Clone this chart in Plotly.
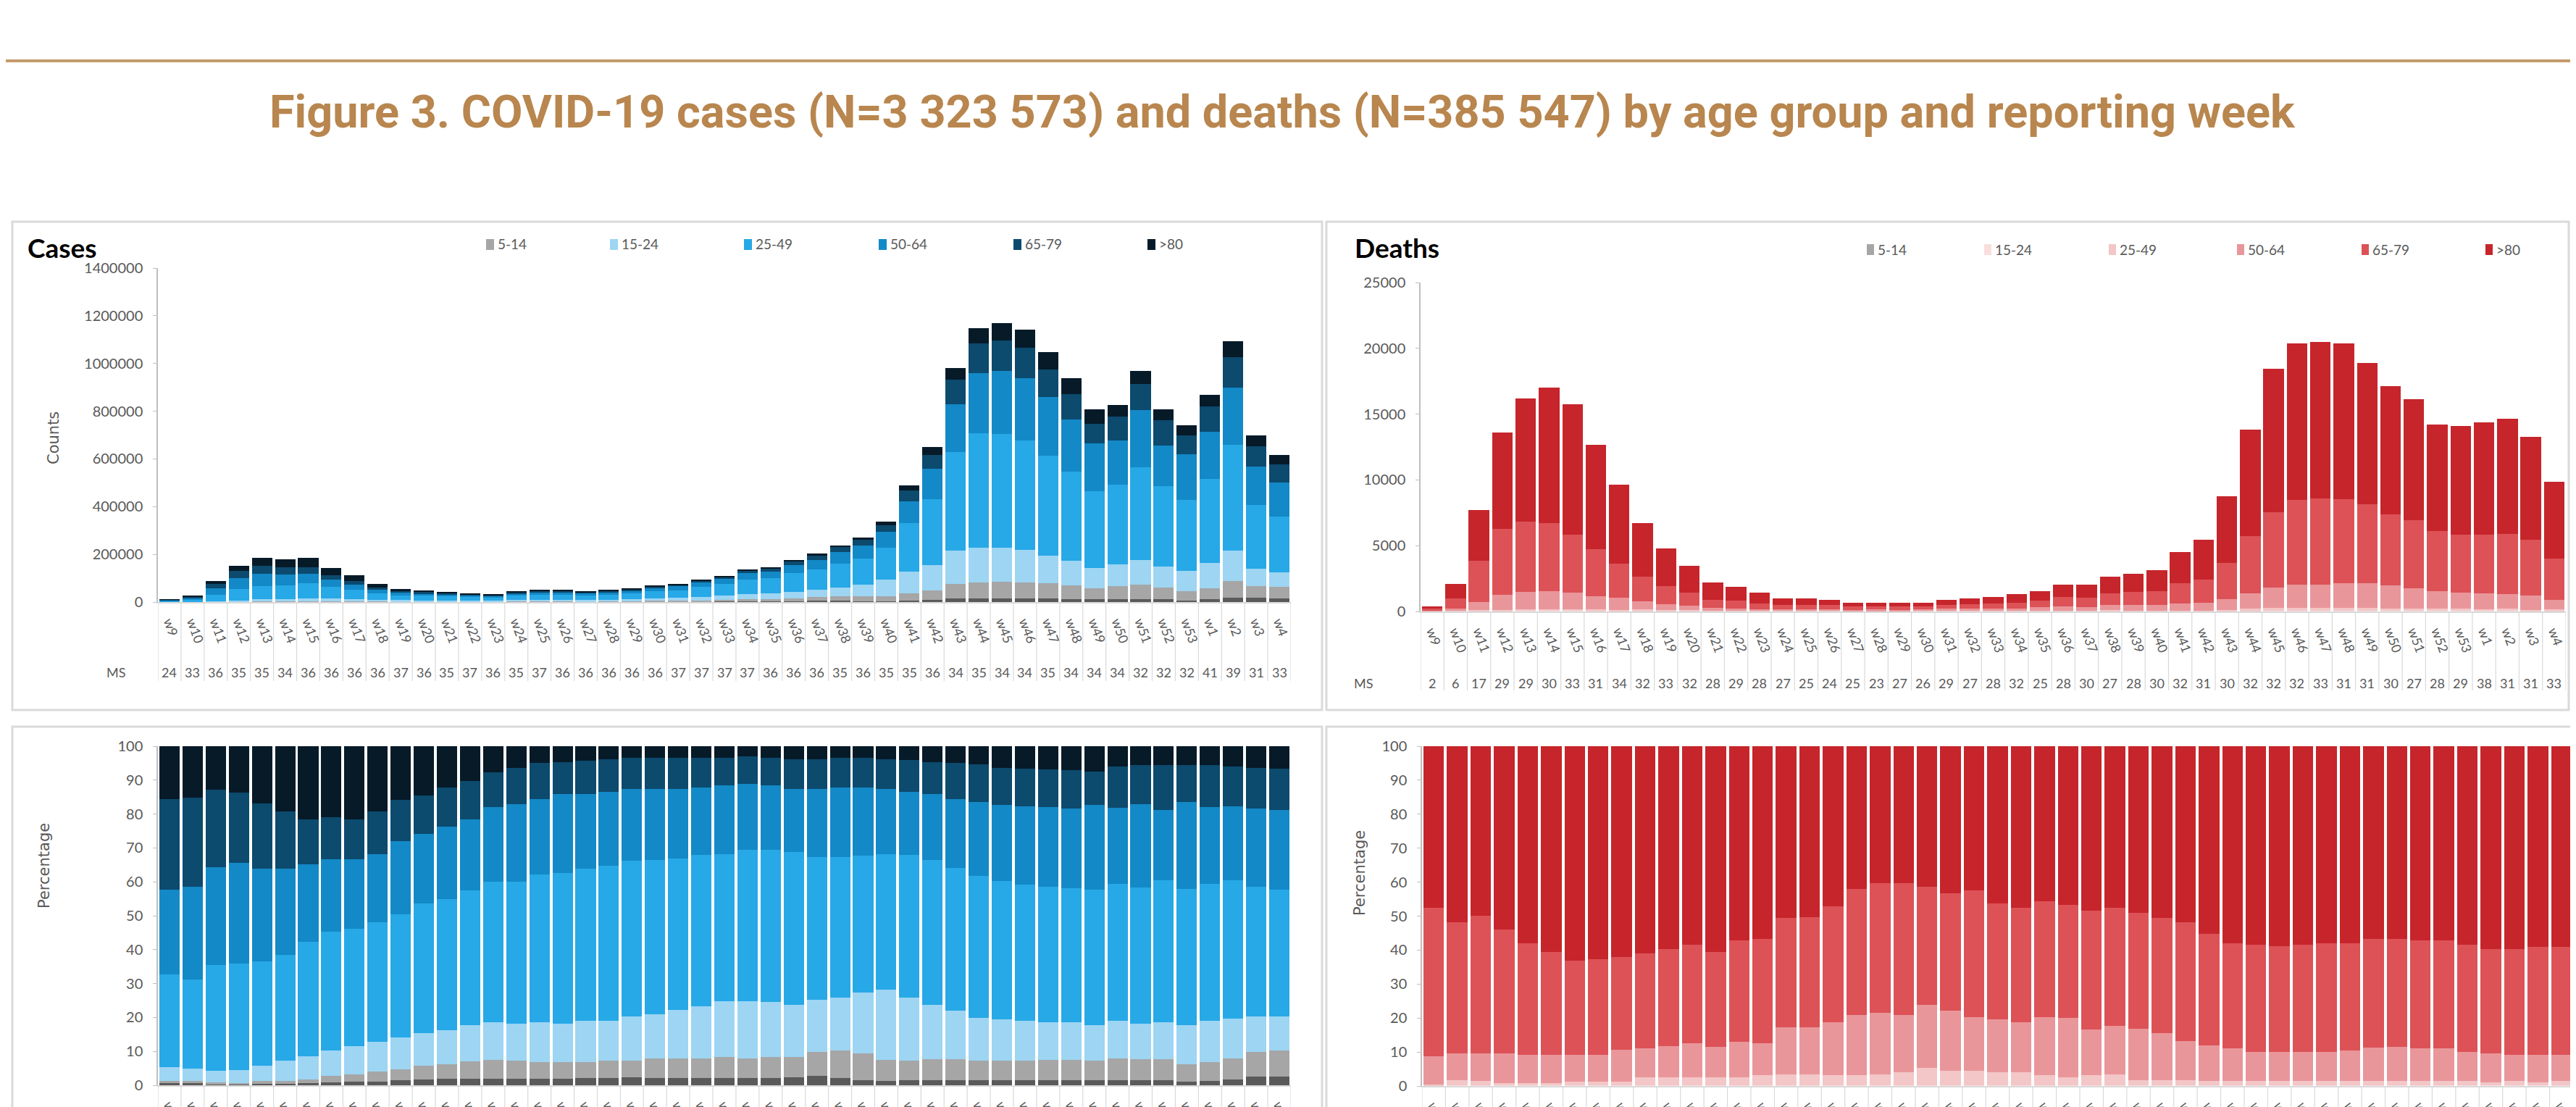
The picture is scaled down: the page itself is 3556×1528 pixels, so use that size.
import plotly.graph_objects as go
import numpy as np

W, H = 3556, 1528
OFF = 8  # default page body margin of the html page

# ---------------- data ----------------
weeks = ["w9", "w10", "w11", "w12", "w13", "w14", "w15", "w16", "w17", "w18", "w19", "w20",
         "w21", "w22", "w23", "w24", "w25", "w26", "w27", "w28", "w29", "w30", "w31", "w32",
         "w33", "w34", "w35", "w36", "w37", "w38", "w39", "w40", "w41", "w42", "w43", "w44",
         "w45", "w46", "w47", "w48", "w49", "w50", "w51", "w52", "w53", "w1", "w2", "w3", "w4"]

ms_cases = [24, 33, 36, 35, 35, 34, 36, 36, 36, 36, 37, 36, 35, 37, 36, 35, 37, 36, 36, 36, 36, 36,
            37, 37, 37, 37, 36, 36, 36, 35, 36, 35, 35, 36, 34, 35, 34, 34, 35, 34, 34, 34, 32, 32,
            32, 41, 39, 31, 33]
ms_deaths = [2, 6, 17, 29, 29, 30, 33, 31, 34, 32, 33, 32, 28, 29, 28, 27, 25, 24, 25, 23, 27, 26,
             29, 27, 28, 32, 25, 28, 30, 27, 28, 30, 32, 31, 30, 32, 32, 32, 33, 31, 31, 30, 27, 28,
             29, 38, 31, 31, 33]

cases_total = [12000, 26500, 87500, 153000, 184000, 179000, 184000, 143000, 111000, 75000, 55000,
               49000, 43000, 37000, 30500, 43000, 49000, 49000, 43000, 49000, 55000, 67000, 75000,
               92000, 110000, 135000, 146000, 177000, 202000, 238000, 270000, 336000, 489000,
               649000, 980000, 1147000, 1170000, 1142000, 1048000, 938000, 807000, 826000, 969000,
               807000, 740000, 868000, 1092000, 697000, 618000]

deaths_total = [400, 2100, 7730, 13600, 16200, 17000, 15750, 12640, 9620, 6710, 4800, 3460, 2220,
                1890, 1430, 1000, 1000, 890, 650, 650, 650, 650, 890, 1000, 1110, 1300, 1560, 2020,
                2020, 2670, 2890, 3150, 4490, 5470, 8750, 13840, 18420, 20370, 20480, 20370, 18890,
                17120, 16120, 14220, 14080, 14400, 14640, 13290, 9860]

# case shares by age group (% of weekly cases)
c_0_4 = [0.6, 0.6, 0.3, 0.3, 0.5, 0.5, 0.6, 0.8, 1.0, 1.1, 1.4, 1.8, 2.0, 2.0, 2.0, 2.0, 2.0, 2.0,
         2.2, 2.2, 2.4, 2.2, 2.2, 2.2, 2.2, 2.2, 2.2, 2.4, 2.8, 2.2, 1.6, 1.3, 1.4, 1.4, 1.4, 1.4,
         1.4, 1.4, 1.4, 1.4, 1.4, 1.4, 1.4, 1.4, 1.0, 1.3, 1.8, 2.5, 2.5]
c_5_14 = [0.7, 0.6, 0.5, 0.4, 0.7, 0.8, 1.2, 2.0, 2.3, 3.0, 3.4, 4.0, 4.3, 5.1, 5.5, 5.2, 4.8, 4.8,
          4.6, 5.0, 4.8, 5.8, 5.8, 5.8, 6.2, 5.8, 6.2, 6.0, 7.0, 8.0, 7.7, 6.2, 5.8, 6.2, 6.2, 5.8,
          5.8, 5.8, 6.1, 6.1, 5.8, 6.6, 6.2, 6.2, 5.3, 5.5, 6.2, 7.3, 7.7]
c_15_24 = [4.0, 3.8, 3.4, 3.8, 4.6, 5.9, 6.7, 7.4, 8.2, 8.7, 9.2, 9.5, 9.9, 10.6, 11.0, 11.0, 11.7,
           11.4, 12.2, 11.8, 13.1, 13.0, 14.3, 15.2, 16.4, 16.8, 16.1, 15.4, 15.5, 15.6, 18.0, 20.7,
           18.6, 16.2, 14.4, 12.7, 12.3, 11.9, 11.1, 11.0, 10.5, 11.0, 10.6, 10.9, 11.4, 12.2, 11.7,
           10.4, 10.0]
c_25_49 = [27.4, 26.2, 31.3, 31.5, 30.7, 31.2, 33.9, 35.1, 34.7, 35.2, 36.5, 38.3, 38.7, 39.7, 41.6,
           41.9, 43.6, 44.5, 44.8, 45.8, 46.0, 45.4, 44.5, 44.7, 43.4, 44.7, 45.0, 44.9, 42.0, 41.5,
           40.4, 39.9, 42.1, 42.6, 42.0, 41.9, 40.7, 40.1, 39.9, 39.7, 40.0, 40.4, 40.1, 41.9, 40.3,
           40.5, 40.7, 38.4, 37.6]
c_50_64 = [25.1, 27.4, 28.8, 29.7, 27.4, 25.5, 22.8, 21.3, 20.4, 20.1, 21.5, 20.6, 21.4, 21.1, 22.0,
           22.8, 22.4, 23.2, 22.1, 21.8, 21.2, 21.1, 20.7, 20.0, 20.2, 19.4, 18.9, 18.8, 20.2, 20.6,
           20.2, 19.4, 18.6, 19.5, 20.5, 21.8, 22.6, 23.1, 23.6, 23.5, 24.9, 22.5, 24.6, 20.8, 25.6,
           22.6, 21.9, 23.0, 23.4]
c_65_79 = [26.7, 26.2, 22.9, 20.6, 19.3, 16.8, 13.3, 12.5, 11.9, 12.6, 12.1, 11.2, 11.6, 11.2, 10.2,
           10.7, 10.5, 9.5, 9.9, 9.6, 9.0, 9.0, 9.0, 8.6, 8.1, 8.2, 8.1, 8.7, 8.7, 8.6, 8.6, 8.7, 9.4,
           9.3, 10.5, 11.0, 10.8, 11.1, 11.0, 11.3, 10.0, 12.1, 11.5, 13.2, 10.8, 12.3, 11.7, 12.0,
           12.1]
c_80p = [15.5, 15.2, 12.8, 13.7, 16.8, 19.3, 21.5, 20.9, 21.5, 19.3, 15.9, 14.6, 12.1, 10.3, 7.7,
         6.4, 5.0, 4.6, 4.2, 3.8, 3.5, 3.5, 3.5, 3.5, 3.5, 2.9, 3.5, 3.8, 3.8, 3.5, 3.5, 3.8, 4.1,
         4.8, 5.0, 5.4, 6.4, 6.6, 6.9, 7.0, 7.4, 6.0, 5.6, 5.6, 5.6, 5.6, 6.0, 6.4, 6.7]

# death shares by age group (% of weekly deaths)
d_5_14 = [0.05] * 49
d_15_24 = [0.15] * 49
d_25_49 = [0.3, 1.6, 1.2, 0.7, 0.7, 0.7, 1.0, 1.0, 1.0, 2.3, 2.3, 2.3, 2.3, 2.3, 3.0, 3.2, 3.3, 3.0,
           3.0, 3.2, 3.9, 5.1, 4.3, 4.3, 3.9, 3.9, 3.0, 2.3, 3.0, 3.2, 1.6, 1.6, 1.6, 1.2, 1.2, 1.2,
           1.2, 1.2, 1.2, 1.2, 1.2, 1.2, 1.2, 1.2, 1.2, 0.8, 1.2, 0.8, 1.2]
d_50_64 = [8.2, 7.7, 8.1, 8.6, 8.2, 8.2, 7.9, 7.9, 9.4, 8.6, 9.2, 10.1, 9.0, 10.5, 9.4, 13.8, 13.7,
           15.5, 17.7, 18.2, 16.8, 18.6, 17.6, 15.8, 15.5, 14.6, 17.1, 17.5, 13.4, 14.3, 15.1, 13.8,
           11.5, 10.6, 9.6, 8.6, 8.6, 8.6, 8.6, 9.1, 9.9, 10.1, 9.6, 9.6, 8.6, 8.5, 7.7, 8.1, 7.7]
d_65_79 = [43.7, 38.6, 40.6, 36.6, 32.9, 30.3, 27.8, 28.2, 27.4, 28.0, 28.7, 28.9, 27.9, 29.9, 30.7,
           32.2, 32.5, 34.2, 37.1, 38.0, 38.7, 34.8, 34.6, 37.3, 34.1, 33.7, 34.1, 33.4, 34.9, 34.7,
           34.1, 33.9, 34.8, 32.7, 31.0, 31.5, 31.1, 31.5, 32.0, 31.5, 31.9, 31.7, 31.9, 31.9, 31.5,
           30.9, 31.3, 31.8, 31.8]
d_80p = [47.6, 51.9, 49.9, 53.9, 58.0, 60.6, 63.1, 62.7, 62.0, 60.9, 59.6, 58.5, 60.6, 57.1, 56.7,
         50.6, 50.3, 47.1, 42.0, 40.4, 40.4, 41.3, 43.3, 42.4, 46.3, 47.6, 45.6, 46.6, 48.5, 47.6,
         49.0, 50.5, 51.9, 55.3, 58.0, 58.5, 58.9, 58.5, 58.0, 58.0, 56.8, 56.8, 57.1, 57.1, 58.5,
         59.6, 59.6, 59.1, 59.1]

case_groups = ["0-4", "5-14", "15-24", "25-49", "50-64", "65-79", ">80"]
case_shares = [c_0_4, c_5_14, c_15_24, c_25_49, c_50_64, c_65_79, c_80p]
case_colors = ["#5A5A5A", "#A6A6A6", "#9DD5F3", "#27A8E7", "#1389C7", "#0C4A6E", "#061A28"]

death_groups = ["5-14", "15-24", "25-49", "50-64", "65-79", ">80"]
death_shares = [d_5_14, d_15_24, d_25_49, d_50_64, d_65_79, d_80p]
death_colors = ["#A6A6A6", "#F9DEDE", "#F3C6C7", "#E9969A", "#DC5257", "#C6252B"]

# ---------------- helpers (screen pixel -> paper) ----------------
def px(x):
    return (x - OFF) / W


def py(y):
    return 1 - (y - OFF) / H


GREY_TXT = "#595959"
FONT = "Lato, Roboto, sans-serif"

fig = go.Figure()

ct = np.array(cases_total, dtype=float)
for g, s, c in zip(case_groups, case_shares, case_colors):
    s = np.array(s, dtype=float)
    fig.add_trace(go.Bar(x=weeks, y=ct * s / 100.0, name=g, marker_color=c, marker_line_width=0,
                         xaxis="x", yaxis="y", showlegend=False))
    fig.add_trace(go.Bar(x=weeks, y=s, name=g, marker_color=c, marker_line_width=0,
                         xaxis="x3", yaxis="y3", showlegend=False))

dt = np.array(deaths_total, dtype=float)
for g, s, c in zip(death_groups, death_shares, death_colors):
    s = np.array(s, dtype=float)
    fig.add_trace(go.Bar(x=weeks, y=dt * s / 100.0, name=g, marker_color=c, marker_line_width=0,
                         xaxis="x2", yaxis="y2", showlegend=False))
    fig.add_trace(go.Bar(x=weeks, y=s, name=g, marker_color=c, marker_line_width=0,
                         xaxis="x4", yaxis="y4", showlegend=False))

# ---------------- axes ----------------
# (xleft, xright, ytop, ybottom) in screen pixels
boxes = {
    "1": (218, 1782, 370, 831),
    "2": (1961, 3542, 390, 844),
    "3": (218, 1782, 1030, 1498),
    "4": (1963, 3552, 1030, 1499),
}
yranges = {"1": [0, 1400000], "2": [0, 25000], "3": [0, 100], "4": [0, 100]}
ydticks = {"1": 200000, "2": 5000, "3": 10, "4": 10}

layout_axes = {}
for k, (xl, xr, yt, yb) in boxes.items():
    xa = "xaxis" if k == "1" else f"xaxis{k}"
    ya = "yaxis" if k == "1" else f"yaxis{k}"
    xname = "x" if k == "1" else f"x{k}"
    yname = "y" if k == "1" else f"y{k}"
    layout_axes[xa] = dict(
        domain=[px(xl), px(xr)], anchor=yname, type="category", range=[-0.5, 48.5],
        tickangle=70, tickfont=dict(family=FONT, size=18, color=GREY_TXT),
        showline=True, linecolor="#D9D9D9", linewidth=1.5, ticks="", showgrid=False,
        zeroline=False, ticklabelstandoff=8, fixedrange=True, automargin=False,
    )
    layout_axes[ya] = dict(
        domain=[py(yb), py(yt)], anchor=xname, range=yranges[k], dtick=ydticks[k], tick0=0,
        tickformat="d", showline=True, linecolor="#BFBFBF", linewidth=1.5, ticks="outside",
        ticklen=5, tickcolor="#BFBFBF", tickfont=dict(family=FONT, size=20, color=GREY_TXT),
        showgrid=False, zeroline=False, ticklabelstandoff=10, fixedrange=True, automargin=False,
    )

shapes = []
annotations = []

# title line + title
shapes.append(dict(type="line", xref="paper", yref="paper", x0=-0.01, x1=1.01, y0=py(84), y1=py(84),
                   line=dict(color="#C49B6C", width=4)))
annotations.append(dict(
    text="Figure 3. COVID-19 cases (N=3 323 573) and deaths (N=385 547) by age group and reporting week",
    x=px(1770), y=py(154), xref="paper", yref="paper", showarrow=False, xanchor="center",
    yanchor="middle", font=dict(family="Roboto, sans-serif", size=63, color="#B8864E", weight="bold")))

# panel frames
for (x0, x1, y0, y1) in [(17, 1825, 306, 980), (1831, 3546, 306, 980),
                         (17, 1825, 1003, 1560), (1831, 3570, 1003, 1560)]:
    shapes.append(dict(type="rect", xref="paper", yref="paper", x0=px(x0), x1=px(x1),
                       y0=py(y1), y1=py(y0), line=dict(color="#DADADA", width=3),
                       fillcolor="rgba(0,0,0,0)", layer="below"))

# category table lines
for xr_, y0, y1 in [("x", 832, 940), ("x2", 845, 953), ("x3", 1499, 1560), ("x4", 1500, 1560)]:
    for i in range(50):
        shapes.append(dict(type="line", xref=xr_, yref="paper", x0=i - 0.5, x1=i - 0.5,
                           y0=py(y1), y1=py(y0), line=dict(color="#D9D9D9", width=1.2)))

# MS row
for i, v in enumerate(ms_cases):
    annotations.append(dict(text=str(v), x=weeks[i], xref="x", y=py(928), yref="paper",
                            showarrow=False, font=dict(family=FONT, size=18, color=GREY_TXT)))
for i, v in enumerate(ms_deaths):
    annotations.append(dict(text=str(v), x=weeks[i], xref="x2", y=py(943), yref="paper",
                            showarrow=False, font=dict(family=FONT, size=18, color=GREY_TXT)))
for (x, y) in [(145, 928), (1882, 943)]:
    annotations.append(dict(text="MS", x=px(x), y=py(y), xref="paper", yref="paper",
                            showarrow=False, font=dict(family=FONT, size=18, color=GREY_TXT)))

# panel titles
for (t, x) in [("Cases", 36), ("Deaths", 1868)]:
    annotations.append(dict(text=t, x=px(x), y=py(342), xref="paper", yref="paper",
                            showarrow=False, xanchor="left", yanchor="middle",
                            font=dict(family=FONT, size=37, color="#000000", weight="bold")))

# axis titles
for (t, x, y) in [("Counts", 60, 605), ("Percentage", 47, 1256), ("Percentage", 1877, 1266)]:
    annotations.append(dict(text=t, x=px(x), y=py(y), xref="paper", yref="paper",
                            showarrow=False, textangle=-90,
                            font=dict(family="DejaVu Sans, sans-serif", size=21, color=GREY_TXT)))

# legends (manual)
case_leg_x = [671, 842, 1027, 1213, 1399, 1584]
for g, c, x in zip(case_groups[1:], case_colors[1:], case_leg_x):
    shapes.append(dict(type="rect", xref="paper", yref="paper", x0=px(x), x1=px(x + 11),
                       y0=py(345), y1=py(330), fillcolor=c, line=dict(width=0)))
    annotations.append(dict(text=g, x=px(x + 14), y=py(337), xref="paper", yref="paper",
                            showarrow=False, xanchor="left", yanchor="middle",
                            font=dict(family=FONT, size=19, color=GREY_TXT)))
death_leg_x = [2577, 2739, 2911, 3088, 3260, 3431]
for g, c, x in zip(death_groups, death_colors, death_leg_x):
    shapes.append(dict(type="rect", xref="paper", yref="paper", x0=px(x), x1=px(x + 10),
                       y0=py(352), y1=py(337), fillcolor=c, line=dict(width=0)))
    annotations.append(dict(text=g, x=px(x + 13), y=py(344), xref="paper", yref="paper",
                            showarrow=False, xanchor="left", yanchor="middle",
                            font=dict(family=FONT, size=19, color=GREY_TXT)))

fig.update_layout(
    width=W, height=H, margin=dict(l=0, r=0, t=0, b=0, autoexpand=False),
    paper_bgcolor="white", plot_bgcolor="white",
    barmode="stack", bargap=0.12,
    shapes=shapes, annotations=annotations,
    font=dict(family=FONT, color=GREY_TXT),
    **layout_axes,
)

fig.write_html("out.html")
